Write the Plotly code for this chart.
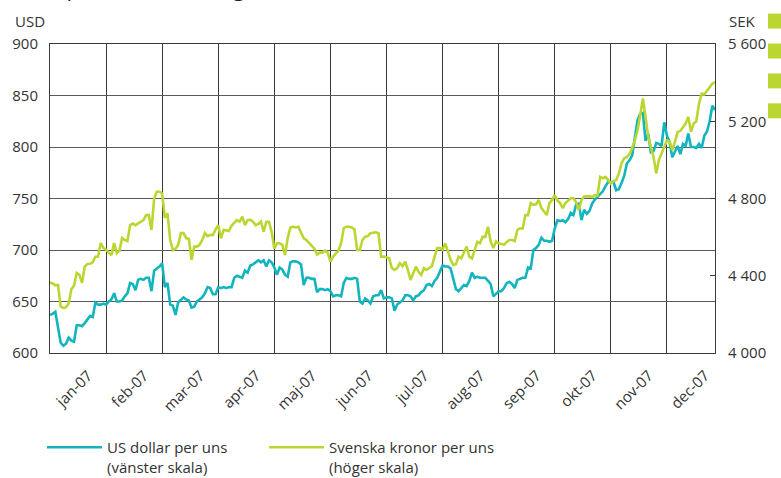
import plotly.graph_objects as go

# Trading-day index (category positions), 250 points through 2007
usd = [637, 638, 640, 625, 610, 607, 609, 615, 612, 611,
       627, 627, 626, 629, 632, 636, 635, 649, 647, 647,
       648, 647, 650, 652, 658, 650, 650, 651, 655, 658,
       668, 667, 661, 671, 672, 671, 673, 673, 660, 680,
       682, 684, 687, 664, 668, 647, 646, 637, 649, 652,
       654, 652, 651, 644, 645, 650, 652, 654, 658, 664,
       663, 657, 657, 664, 663, 664, 663, 664, 664, 673,
       675, 674, 673, 680, 678, 685, 686, 688, 690, 688,
       690, 684, 690, 688, 683, 676, 683, 681, 676, 674,
       688, 689, 689, 688, 686, 666, 673, 673, 672, 672,
       659, 662, 662, 661, 662, 660, 655, 656, 656, 655,
       668, 673, 672, 672, 673, 672, 650, 648, 653, 651,
       648, 655, 656, 656, 661, 653, 654, 654, 653, 641,
       647, 649, 651, 656, 656, 655, 651, 655, 656, 659,
       661, 666, 667, 665, 670, 673, 680, 685, 684, 684,
       682, 671, 662, 660, 663, 666, 665, 670, 678, 673,
       674, 673, 673, 673, 670, 667, 655, 658, 660, 660,
       663, 668, 669, 667, 663, 671, 672, 673, 673, 683,
       682, 700, 702, 705, 712, 709, 709, 708, 709, 721,
       729, 728, 729, 727, 730, 736, 734, 744, 745, 729,
       739, 735, 738, 745, 749, 752, 754, 757, 762, 766,
       766, 766, 758, 759, 765, 772, 784, 787, 792, 809,
       826, 832, 833, 806, 813, 795, 796, 804, 803, 801,
       824, 811, 805, 790, 795, 801, 793, 803, 801, 813,
       800, 800, 799, 803, 799, 811, 815, 825, 840, 836]

sek = [4365, 4360, 4350, 4352, 4241, 4234, 4236, 4258, 4330, 4350,
       4415, 4405, 4363, 4447, 4461, 4462, 4470, 4499, 4500, 4569,
       4543, 4535, 4520, 4507, 4569, 4517, 4530, 4595, 4585, 4580,
       4662, 4670, 4662, 4670, 4680, 4688, 4714, 4714, 4637, 4800,
       4835, 4835, 4826, 4700, 4723, 4585, 4533, 4540, 4560, 4621,
       4621, 4595, 4590, 4482, 4551, 4551, 4560, 4585, 4621, 4605,
       4612, 4610, 4640, 4662, 4594, 4637, 4635, 4632, 4660, 4673,
       4688, 4680, 4706, 4662, 4688, 4690, 4680, 4662, 4668, 4680,
       4628, 4680, 4680, 4626, 4540, 4568, 4568, 4560, 4507, 4595,
       4650, 4654, 4650, 4654, 4620, 4594, 4585, 4570, 4560, 4540,
       4510, 4520, 4520, 4530, 4520, 4473, 4499, 4515, 4530, 4569,
       4647, 4654, 4654, 4650, 4640, 4533, 4533, 4585, 4602, 4605,
       4620, 4623, 4625, 4620, 4499, 4499, 4495, 4490, 4440, 4430,
       4440, 4465, 4450, 4473, 4430, 4378, 4413, 4447, 4420, 4404,
       4440, 4430, 4440, 4450, 4499, 4543, 4543, 4535, 4568, 4530,
       4482, 4456, 4460, 4499, 4490, 4520, 4551, 4499, 4490, 4533,
       4576, 4569, 4602, 4600, 4654, 4577, 4543, 4577, 4568, 4565,
       4560, 4575, 4585, 4585, 4580, 4637, 4646, 4645, 4714, 4714,
       4776, 4767, 4770, 4792, 4750, 4733, 4714, 4776, 4792, 4818,
       4790, 4776, 4750, 4776, 4790, 4801, 4801, 4780, 4740, 4792,
       4810, 4810, 4812, 4808, 4818, 4815, 4912, 4905, 4912, 4895,
       4878, 4890, 4895, 4930, 4982, 5008, 5015, 5030, 5060, 5101,
       5153, 5231, 5318, 5222, 5119, 5067, 5015, 4930, 5000, 5033,
       5067, 5101, 5095, 5050, 5093, 5145, 5150, 5170, 5188, 5222,
       5145, 5188, 5200, 5291, 5343, 5340, 5360, 5377, 5394, 5403]

month_labels = ["jan-07", "feb-07", "mar-07", "apr-07", "maj-07", "jun-07",
                "jul-07", "aug-07", "sep-07", "okt-07", "nov-07", "dec-07"]
days_per_tick = 21
left_ticks = [600, 650, 700, 750, 800, 850, 900]
right_ticks = [4000, 4400, 4800, 5200, 5600]

n = len(usd)
x = list(range(n))
label_pos = [days_per_tick * i + days_per_tick / 2 for i in range(len(month_labels))]
grid_pos = [days_per_tick * i for i in range(1, len(month_labels))]

TEAL = "#12B4BE"
LIME = "#BCD631"
FONT = "Open Sans"
TXT = "#333333"
W, H = 781, 478

PH = 309.8  # plot height in px
def py(p):  # pixel row -> paper y
    return (353.3 - p) / PH
def px(p):  # pixel column -> paper x
    return (p - 50) / 665
def cy(p):  # pixel row -> container y
    return 1 - p / H

fig = go.Figure()
fig.add_trace(go.Scatter(x=x, y=sek, mode="lines", name="Svenska kronor per uns<br>(höger skala)",
                         line=dict(color=LIME, width=2.6), yaxis="y2", legend="legend2"))
fig.add_trace(go.Scatter(x=x, y=usd, mode="lines", name="US dollar per uns<br>(vänster skala)",
                         line=dict(color=TEAL, width=2.6), yaxis="y", legend="legend"))

leg_common = dict(orientation="h", xanchor="left", yanchor="top", valign="top",
                  yref="container", font=dict(size=15, color=TXT), itemwidth=55,
                  bgcolor="rgba(0,0,0,0)")

fig.update_layout(
    width=W, height=H,
    margin=dict(l=50, r=66, t=44, b=125),
    paper_bgcolor="white", plot_bgcolor="white",
    font=dict(family=FONT, size=15, color=TXT),
    separators=", ",
    showlegend=True,
    legend=dict(x=px(42), y=cy(431), **leg_common),
    legend2=dict(x=px(264), y=cy(431), **leg_common),
    xaxis=dict(range=[0, n - 1], tickmode="array", tickvals=label_pos, ticktext=month_labels,
               tickangle=-45, showgrid=False, ticks="", showline=True, mirror=True,
               linecolor="#3a3a3a", linewidth=1, zeroline=False, automargin=False,
               ticklabelstandoff=7, ticklabelshift=10,
               tickfont=dict(size=15, color=TXT),
               minor=dict(tickmode="array", tickvals=grid_pos, showgrid=True,
                          gridcolor="#3a3a3a", gridwidth=1, ticks="")),
    yaxis=dict(range=[600, 900], tickmode="array", tickvals=left_ticks, showgrid=True,
               gridcolor="#5a5a5a", gridwidth=1, ticks="", showline=True, mirror=True,
               linecolor="#3a3a3a", zeroline=False, ticklabelstandoff=8, automargin=False,
               tickfont=dict(size=15, color=TXT)),
    yaxis2=dict(range=[4000, 5600], overlaying="y", side="right", tickmode="array",
                tickvals=right_ticks, tickformat=",d", showgrid=False, ticks="inside",
                ticklen=5, tickcolor="#3a3a3a", showline=True, linecolor="#3a3a3a",
                zeroline=False, ticklabelstandoff=9, automargin=False,
                tickfont=dict(size=15, color=TXT)),
    annotations=[
        dict(text="USD", xref="paper", yref="paper", x=px(30), y=py(20), xanchor="center",
             yanchor="middle", showarrow=False, font=dict(size=15, color=TXT)),
        dict(text="SEK", xref="paper", yref="paper", x=px(727), y=py(20), xanchor="left",
             yanchor="middle", showarrow=False, font=dict(size=15, color=TXT)),
        dict(text="Guldprisets utveckling", xref="paper", yref="paper", x=px(16), y=py(3),
             xanchor="left", yanchor="bottom", showarrow=False,
             font=dict(size=22, color="#222222")),
    ],
    shapes=[dict(type="rect", xref="paper", yref="paper", x0=px(768), x1=px(781),
                 y0=py(yb), y1=py(yt), fillcolor=LIME, line=dict(width=0))
            for yt, yb in [(13, 28), (43, 58), (73, 88), (103, 118)]],
)

fig.write_html(
    "out.html",
    config={"displayModeBar": False, "staticPlot": True},
    post_script="document.body.style.margin='0px';document.body.style.padding='0px';"
                "document.body.style.overflow='hidden';",
)
